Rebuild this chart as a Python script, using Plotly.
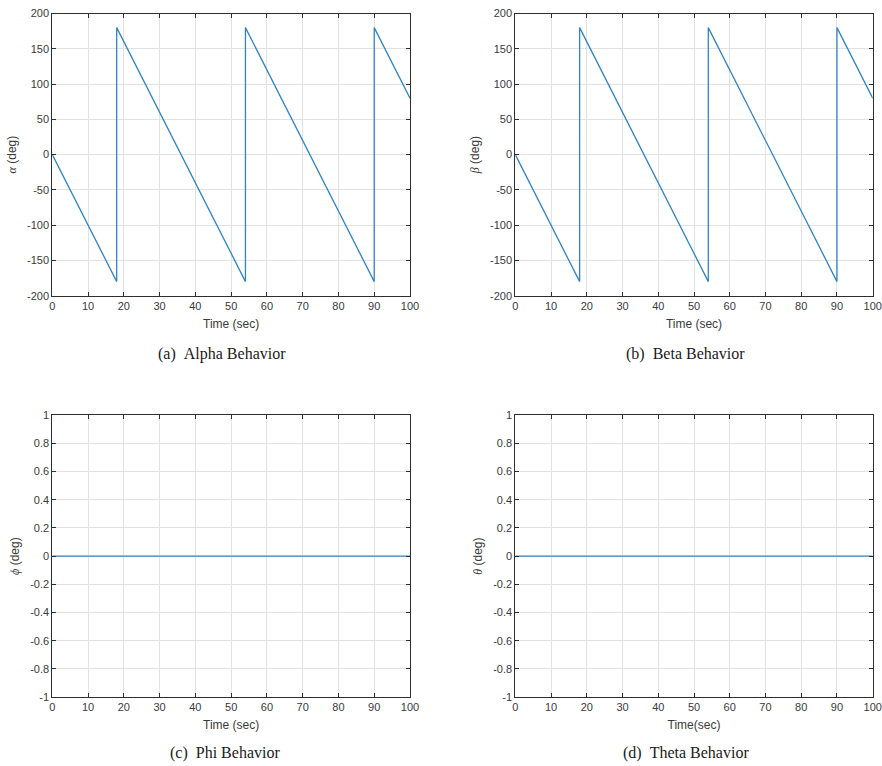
import plotly.graph_objects as go

# Time breakpoints (sec) of the attitude angle histories
time_alpha = [0, 18, 18, 54, 54, 90, 90, 100]
alpha_deg = [0, -180, 180, -180, 180, -180, 180, 80]

time_beta = [0, 18, 18, 54, 54, 90, 90, 100]
beta_deg = [0, -180, 180, -180, 180, -180, 180, 80]

time_phi = [0, 100]
phi_deg = [0, 0]

time_theta = [0, 100]
theta_deg = [0, 0]

x_ticks = [0, 10, 20, 30, 40, 50, 60, 70, 80, 90, 100]
x_ticktext = ["0", "10", "20", "30", "40", "50", "60", "70", "80", "90", "100"]
y_ticks_ab = [-200, -150, -100, -50, 0, 50, 100, 150, 200]
y_ticktext_ab = ["-200", "-150", "-100", "-50", "0", "50", "100", "150", "200"]
y_ticks_cd = [-1, -0.8, -0.6, -0.4, -0.2, 0, 0.2, 0.4, 0.6, 0.8, 1]
y_ticktext_cd = ["-1", "-0.8", "-0.6", "-0.4", "-0.2", "0", "0.2", "0.4", "0.6", "0.8", "1"]

captions = ["(a)\u2002Alpha Behavior", "(b)\u2002Beta Behavior",
            "(c)\u2002Phi Behavior", "(d)\u2002Theta Behavior"]

W, H = 882, 766
LINE = "#2f84c6"
AX = "#2e2e2e"
GRID = "#e2e2e2"
TICKFONT = dict(family="Liberation Sans, Arial, sans-serif", size=11, color="#3a3a3a")
TITLEFONT = dict(family="Liberation Sans, Arial, sans-serif", size=12, color="#3a3a3a")

# axes boxes in pixels: (left, right, top, bottom)
boxes = [(52.3, 410.0, 13.5, 295.7), (515.3, 872.7, 13.5, 295.7),
         (52.3, 410.0, 415.0, 697.2), (515.3, 872.7, 415.0, 697.2)]

greek = "<span style='font-family:Liberation Serif, Times New Roman, serif'><i>{}</i></span> (deg)"
ylabels = [greek.format("α"), greek.format("β"), greek.format("ϕ"), greek.format("θ")]
xlabels = ["Time (sec)", "Time (sec)", "Time (sec)", "Time(sec)"]

series = [(time_alpha, alpha_deg), (time_beta, beta_deg),
          (time_phi, phi_deg), (time_theta, theta_deg)]

fig = go.Figure()
layout = dict(width=W, height=H, margin=dict(l=0, r=0, t=0, b=0, autoexpand=False),
              paper_bgcolor="white", plot_bgcolor="white", showlegend=False)

for i, ((t, v), (l, r, tp, bt)) in enumerate(zip(series, boxes)):
    n = "" if i == 0 else str(i + 1)
    fig.add_trace(go.Scatter(x=t, y=v, mode="lines", line=dict(color=LINE, width=1.3),
                             xaxis="x" + n, yaxis="y" + n, hoverinfo="skip"))
    top_row = i < 2
    layout["xaxis" + n] = dict(
        domain=[l / W, r / W], anchor="y" + n, range=[0, 100], automargin=False,
        tickvals=x_ticks, ticktext=x_ticktext, ticks="inside", ticklen=4,
        tickcolor=AX, showline=True, linecolor=AX, linewidth=1, mirror="ticks",
        showgrid=True, gridcolor=GRID, gridwidth=1, zeroline=False,
        tickfont=TICKFONT, title=dict(text=xlabels[i], font=TITLEFONT, standoff=8))
    layout["yaxis" + n] = dict(
        domain=[1 - bt / H, 1 - tp / H], anchor="x" + n, automargin=False,
        range=[-200, 200] if top_row else [-1, 1],
        tickvals=y_ticks_ab if top_row else y_ticks_cd,
        ticktext=y_ticktext_ab if top_row else y_ticktext_cd,
        ticks="inside", ticklen=4, tickcolor=AX, showline=True, linecolor=AX,
        linewidth=1, mirror="ticks", showgrid=True, gridcolor=GRID, gridwidth=1,
        zeroline=False, tickfont=TICKFONT,
        title=dict(text=ylabels[i], font=TITLEFONT, standoff=7))

cap_pos = [(221.5, 354), (685, 354), (225, 753), (686, 753)]
annotations = []
for text, (cx, cy) in zip(captions, cap_pos):
    annotations.append(dict(text=text, x=cx / W, y=1 - cy / H, xref="paper", yref="paper",
                            xanchor="center", yanchor="middle", showarrow=False,
                            font=dict(family="Liberation Serif, Times New Roman, serif",
                                      size=16, color="#1a1a1a")))
layout["annotations"] = annotations

fig.update_layout(**layout)
fig.write_html("out.html")
